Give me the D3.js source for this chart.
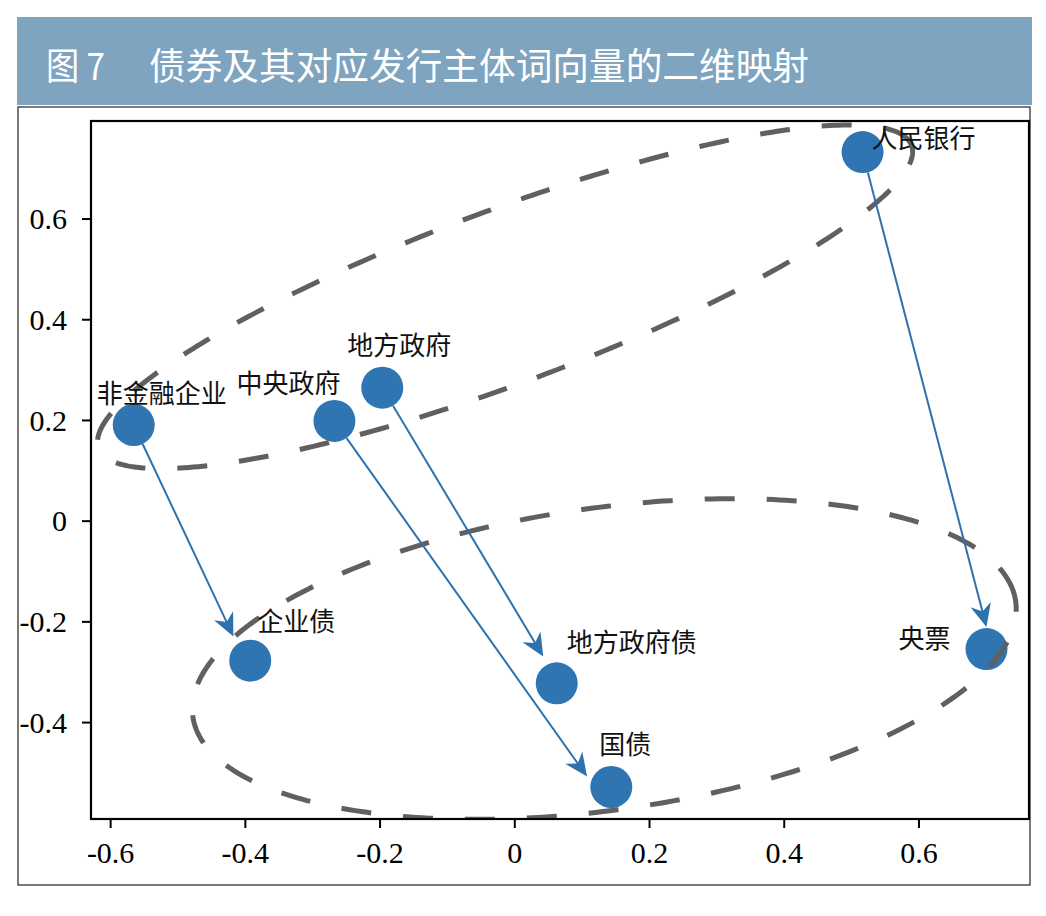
<!DOCTYPE html>
<html>
<head>
<meta charset="utf-8">
<script src="https://cdn.jsdelivr.net/npm/d3@7"></script>
<style>
  html, body { margin: 0; padding: 0; background: #ffffff; }
  svg { display: block; }
</style>
</head>
<body>
<script>
// ---------------- data ----------------
const pointNames = ["人民银行", "央票", "非金融企业", "企业债", "中央政府", "国债", "地方政府", "地方政府债"];
const pointX = [0.517, 0.701, -0.565, -0.392, -0.267, 0.144, -0.196, 0.063];
const pointY = [0.732, -0.255, 0.190, -0.278, 0.198, -0.529, 0.264, -0.323];

// arrows: issuer -> bond, tip position in data units
const arrowFrom = ["非金融企业", "中央政府", "地方政府", "人民银行"];
const arrowTo   = ["企业债", "国债", "地方政府债", "央票"];
const arrowTipX = [-0.417, 0.108, 0.043, 0.701];
const arrowTipY = [-0.230, -0.508, -0.270, -0.211];

// dashed grouping ellipses (data units, angle in data space, degrees)
const ellipseCX = [-0.0137, 0.1336];
const ellipseCY = [0.4446, -0.2748];
const ellipseW  = [1.350, 1.244];
const ellipseH  = [0.328, 0.595];
const ellipseAngle = [27.2, 12.0];

const xTicks = [-0.6, -0.4, -0.2, 0, 0.2, 0.4, 0.6];
const xTickLabels = ["-0.6", "-0.4", "-0.2", "0", "0.2", "0.4", "0.6"];
const yTicks = [-0.4, -0.2, 0, 0.2, 0.4, 0.6];
const yTickLabels = ["-0.4", "-0.2", "0", "0.2", "0.4", "0.6"];
const xDomain = [-0.6284, 0.7641];
const yDomain = [-0.5925, 0.7937];

const titleNo = "图 7";
const titleText = "债券及其对应发行主体词向量的二维映射";

// ---------------- layout (pixels) ----------------
const W = 1046, H = 916;
const plot = { left: 91, top: 121, width: 938, height: 698 };
const labelDX = { "人民银行": 9, "央票": -88, "非金融企业": -37, "企业债": 7, "中央政府": -98, "国债": -12, "地方政府": -35, "地方政府债": 10 };
const labelDY = { "人民银行": -4, "央票": -1, "非金融企业": -22, "企业债": -30, "中央政府": -28, "国债": -33, "地方政府": -33, "地方政府债": -31 };
const R = 21;

const svg = d3.select("body").append("svg").attr("width", W).attr("height", H);

// title bar
svg.append("rect").attr("x", 17).attr("y", 17).attr("width", 1015).attr("height", 88).attr("fill", "#7fa4bf");
svg.append("text").attr("x", 46).attr("y", 80)
  .attr("font-family", "'Noto Sans CJK SC', sans-serif").attr("font-size", 37)
  .attr("textLength", 59).attr("lengthAdjust", "spacingAndGlyphs")
  .attr("fill", "#ffffff").text(titleNo);
svg.append("text").attr("x", 149).attr("y", 80)
  .attr("font-family", "'Noto Sans CJK SC', sans-serif").attr("font-size", 37)
  .attr("textLength", 660).attr("lengthAdjust", "spacingAndGlyphs")
  .attr("fill", "#ffffff").text(titleText);

// outer frame
svg.append("rect").attr("x", 18).attr("y", 107).attr("width", 1012).attr("height", 778)
  .attr("fill", "none").attr("stroke", "#333333").attr("stroke-width", 1.3);

const x = d3.scaleLinear().domain(xDomain).range([plot.left, plot.left + plot.width]);
const y = d3.scaleLinear().domain(yDomain).range([plot.top + plot.height, plot.top]);

svg.append("defs").append("clipPath").attr("id", "plotclip")
  .append("rect").attr("x", plot.left).attr("y", plot.top).attr("width", plot.width).attr("height", plot.height);

const pts = pointNames.map((n, i) => ({ name: n, x: pointX[i], y: pointY[i] }));
const byName = {};
pts.forEach(p => byName[p.name] = p);

const blue = "#2e75b2";

// circles
svg.append("g").selectAll("circle").data(pts).join("circle")
  .attr("cx", d => x(d.x)).attr("cy", d => y(d.y)).attr("r", R).attr("fill", blue);

// ellipses
const gEll = svg.append("g").attr("clip-path", "url(#plotclip)");
ellipseCX.forEach((cx, i) => {
  const a = ellipseW[i] / 2, b = ellipseH[i] / 2, th = ellipseAngle[i] * Math.PI / 180;
  const ptsE = d3.range(0, 361).map(k => {
    const t = k * Math.PI / 180;
    const ex = cx + a * Math.cos(t) * Math.cos(th) - b * Math.sin(t) * Math.sin(th);
    const ey = ellipseCY[i] + a * Math.cos(t) * Math.sin(th) + b * Math.sin(t) * Math.cos(th);
    return [x(ex), y(ey)];
  });
  gEll.append("path").attr("d", d3.line()(ptsE))
    .attr("fill", "none").attr("stroke", "#606060").attr("stroke-width", 5)
    .attr("stroke-dasharray", "30 32");
});

// arrows
const gArr = svg.append("g");
arrowFrom.forEach((f, i) => {
  const p = byName[f];
  const x0 = x(p.x), y0 = y(p.y);
  const x1 = x(arrowTipX[i]), y1 = y(arrowTipY[i]);
  const dx = x1 - x0, dy = y1 - y0, L = Math.hypot(dx, dy);
  const ux = dx / L, uy = dy / L;
  const sx = x0 + ux * R, sy = y0 + uy * R;
  const ex = x1 - ux * 15, ey = y1 - uy * 15;
  gArr.append("line").attr("x1", sx).attr("y1", sy).attr("x2", ex).attr("y2", ey)
    .attr("stroke", "#2e72ad").attr("stroke-width", 2);
  const ang = Math.atan2(dy, dx) * 180 / Math.PI;
  gArr.append("path").attr("d", "M0,0 L-23,-10.5 L-16,0 L-23,10.5 Z")
    .attr("transform", `translate(${x1},${y1}) rotate(${ang})`)
    .attr("fill", "#2e72ad");
});

// labels
svg.append("g").selectAll("text").data(pts).join("text")
  .attr("x", d => x(d.x) + labelDX[d.name]).attr("y", d => y(d.y) + labelDY[d.name])
  .attr("font-family", "'Noto Sans CJK SC', sans-serif").attr("font-size", 26)
  .attr("fill", "#111111").text(d => d.name);

// axes
const serif = "'Liberation Serif', 'Times New Roman', serif";
const gx = svg.append("g").attr("transform", `translate(0,${plot.top + plot.height})`)
  .call(d3.axisBottom(x).tickValues(xTicks).tickFormat((d, i) => xTickLabels[i]).tickSize(9).tickSizeOuter(0));
gx.select(".domain").remove();
gx.selectAll(".tick line").attr("stroke", "#000").attr("stroke-width", 2);
gx.selectAll(".tick text").attr("y", 44).attr("dy", null).attr("font-family", serif).attr("font-size", 30).attr("fill", "#000");

const gy = svg.append("g").attr("transform", `translate(${plot.left},0)`)
  .call(d3.axisLeft(y).tickValues(yTicks).tickFormat((d, i) => yTickLabels[i]).tickSize(9).tickSizeOuter(0));
gy.select(".domain").remove();
gy.selectAll(".tick line").attr("stroke", "#000").attr("stroke-width", 2);
gy.selectAll(".tick text").attr("x", -24).attr("dy", "0.34em").attr("font-family", serif).attr("font-size", 30).attr("fill", "#000");

// spines
svg.append("rect").attr("x", plot.left).attr("y", plot.top).attr("width", plot.width).attr("height", plot.height)
  .attr("fill", "none").attr("stroke", "#000").attr("stroke-width", 2.2);
</script>
</body>
</html>
